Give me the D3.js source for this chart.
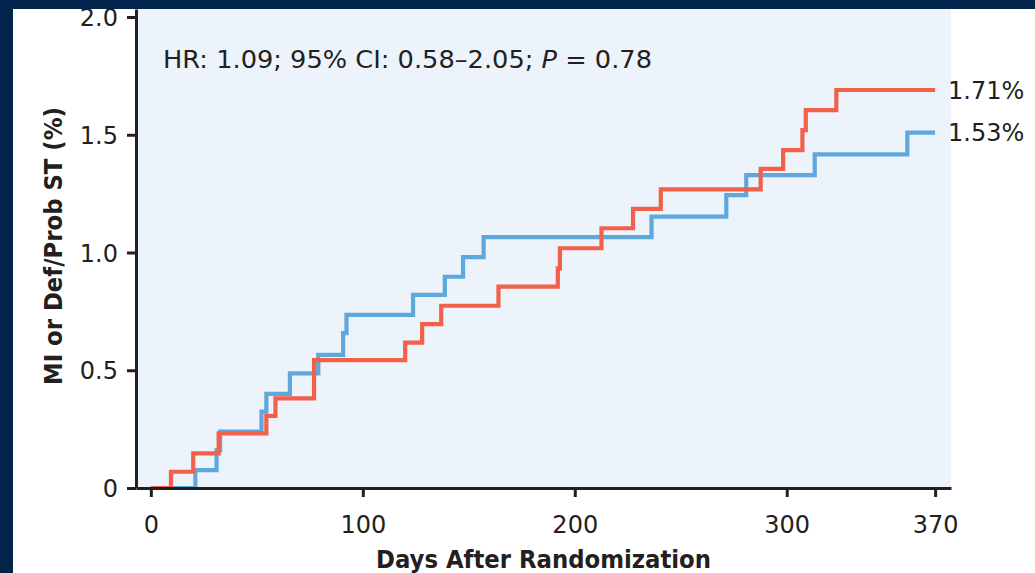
<!DOCTYPE html>
<html>
<head>
<meta charset="utf-8">
<script src="https://cdn.jsdelivr.net/npm/d3@7"></script>
<style>
	html, body { margin: 0; padding: 0; background: #fff; }
	svg { display: block; }
	text { fill: #231f20; font-family: "DejaVu Sans", sans-serif; }
	.axis path, .axis line { stroke: #231f20; stroke-width: 3; }
</style>
</head>
<body>
<svg></svg>
<script>
// step points (days, cumulative %)
var redDays = [0, 9.5, 20, 32, 54.5, 58.8, 77, 120, 128, 137, 164, 192, 193, 212.6, 227.5, 240.6, 287.7, 298.3, 307.4, 309, 323.4, 370];
var redVals = [0, 0.069, 0.147, 0.232, 0.306, 0.381, 0.543, 0.617, 0.696, 0.774, 0.855, 0.933, 1.018, 1.103, 1.185, 1.268, 1.355, 1.435, 1.52, 1.605, 1.69, 1.69];

var blueDays = [0, 21, 31, 32.7, 52.2, 54.5, 65.6, 79, 90.7, 92.3, 123.7, 138.7, 147.3, 157, 236.2, 271.5, 280.9, 313.2, 356.9, 370];
var blueVals = [0, 0.076, 0.16, 0.24, 0.324, 0.40, 0.487, 0.565, 0.658, 0.735, 0.82, 0.897, 0.98, 1.065, 1.152, 1.244, 1.329, 1.417, 1.509, 1.509];

var xTicks = [0, 100, 200, 300, 370];
var yTicks = [0, 0.5, 1.0, 1.5, 2.0];
var endLabels = ['1.71%', '1.53%'];

var chart = (function(window, d3) {

	var w = 1035, h = 573;
	var left = 136, right = 951, top = 9, bottom = 488;

	var svg = d3.select('svg').attr('width', w).attr('height', h);

	var x = d3.scaleLinear().domain([-7, 377.5]).range([left, right]);
	var y = d3.scaleLinear().domain([0, 2.034]).range([bottom, top]);

	svg.append('rect')
		.attr('x', left).attr('y', 0)
		.attr('width', right - left).attr('height', bottom)
		.attr('fill', '#ecf3fb');

	var line = d3.line()
		.x(function(d) { return x(d[0]); })
		.y(function(d) { return y(d[1]); })
		.curve(d3.curveStepAfter);

	var series = [
		{ days: blueDays, vals: blueVals, color: '#5ea8dc', label: endLabels[1] },
		{ days: redDays, vals: redVals, color: '#f3604a', label: endLabels[0] }
	];

	series.forEach(function(s) {
		var pts = s.days.map(function(d, i) { return [d, s.vals[i]]; });
		svg.append('path')
			.datum(pts)
			.attr('fill', 'none')
			.attr('stroke', s.color)
			.attr('stroke-width', 4.2)
			.attr('d', line);

		var last = pts[pts.length - 1];
		svg.append('text')
			.attr('x', x(last[0]) + 13)
			.attr('y', y(last[1]))
			.attr('dy', '0.36em')
			.style('font-size', '24px')
			.text(s.label);
	});

	var xAxis = svg.append('g').classed('axis', true)
		.attr('transform', 'translate(0,' + bottom + ')')
		.call(d3.axisBottom(x).tickValues(xTicks).tickSize(9).tickSizeOuter(0).tickFormat(d3.format('d')));
	xAxis.selectAll('text')
		.attr('y', 45).attr('dy', null)
		.style('font-size', '24px').style('font-family', '"DejaVu Sans", sans-serif');

	var yAxis = svg.append('g').classed('axis', true)
		.attr('transform', 'translate(' + left + ',0)')
		.call(d3.axisLeft(y).tickValues(yTicks).tickSize(9).tickSizeOuter(0)
			.tickFormat(function(d) { return d === 0 ? '0' : d3.format('.1f')(d); }));
	yAxis.selectAll('text')
		.attr('x', -18).attr('dy', '0.36em')
		.style('font-size', '24px').style('font-family', '"DejaVu Sans", sans-serif');
	svg.selectAll('.axis text').style('fill', '#231f20');

	// hazard ratio note
	var note = svg.append('text')
		.attr('x', 163).attr('y', 68)
		.attr('textLength', 489).attr('lengthAdjust', 'spacingAndGlyphs')
		.style('font-size', '25px');
	note.append('tspan').text('HR: 1.09; 95% CI: 0.58\u20132.05; ');
	note.append('tspan').style('font-style', 'italic').text('P');
	note.append('tspan').text(' = 0.78');

	svg.append('text')
		.attr('x', 543.5).attr('y', 568)
		.attr('text-anchor', 'middle')
		.attr('textLength', 335).attr('lengthAdjust', 'spacingAndGlyphs')
		.style('font-size', '25px').style('font-weight', 'bold')
		.style('font-family', '"DejaVu Sans Condensed", "DejaVu Sans", sans-serif')
		.text('Days After Randomization');

	svg.append('text')
		.attr('transform', 'translate(62,246) rotate(-90)')
		.attr('text-anchor', 'middle')
		.attr('textLength', 278).attr('lengthAdjust', 'spacingAndGlyphs')
		.style('font-size', '25px').style('font-weight', 'bold')
		.style('font-family', '"DejaVu Sans Condensed", "DejaVu Sans", sans-serif')
		.text('MI or Def/Prob ST (%)');

	// dark frame on top and left
	svg.append('rect').attr('x', 0).attr('y', 0).attr('width', w).attr('height', 9).attr('fill', '#02234a');
	svg.append('rect').attr('x', 0).attr('y', 0).attr('width', 13).attr('height', h).attr('fill', '#02234a');

})(window, d3);
</script>
</body>
</html>
